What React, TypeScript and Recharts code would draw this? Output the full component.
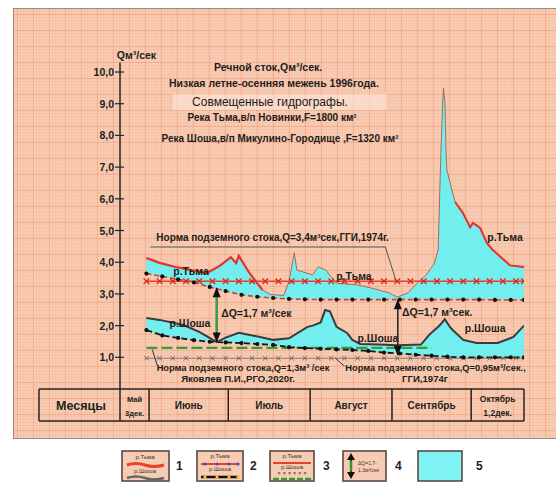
import React from 'react';
import { ComposedChart, Line, Area, XAxis, YAxis, ReferenceDot, ReferenceArea } from 'recharts';

// x = day index counted from 21 May (0); 1 Jun = 11, 1 Jul = 41, 1 Aug = 72, 1 Sep = 103, 1 Oct = 133, 21 Oct = 153
const tmaDays = [10, 15, 21, 27, 33, 38, 42, 44, 45, 49, 54, 57, 62, 64, 66, 67, 69, 73, 75, 78, 80, 82, 90, 95, 102, 105, 109, 113, 116, 119, 120.5, 121.5, 122.2, 122.5, 123.1, 123.5, 123.8, 126.9, 129.9, 132.6, 133.7, 136.4, 139, 141, 147.7, 153];
const tmaQ = [4.13, 3.98, 3.85, 3.75, 3.66, 3.9, 4.16, 3.97, 4.2, 3.66, 3.12, 2.98, 2.95, 3.4, 4.3, 3.75, 3.7, 3.6, 3.85, 3.75, 3.53, 3.34, 3.28, 3.19, 3.03, 2.9, 3.03, 3.38, 3.6, 3.95, 4.4, 7.4, 9.0, 9.5, 9.0, 7.4, 6.9, 5.9, 5.55, 5.1, 5.24, 5.08, 4.6, 4.4, 3.9, 3.85];
const tmaBase = [3.64, 3.56, 3.45, 3.36, 3.24, 3.12, 3.05, 3.01, 2.99, 2.92, 2.89, 2.87, 2.85, 2.84, 2.83, 2.83, 2.83, 2.82, 2.82, 2.82, 2.82, 2.82, 2.82, 2.82, 2.82, 2.82, 2.82, 2.82, 2.82, 2.82, 2.82, 2.82, 2.82, 2.82, 2.82, 2.82, 2.82, 2.82, 2.82, 2.82, 2.82, 2.82, 2.82, 2.82, 2.81, 2.81];

const shoshaDays = [10, 15, 24, 30, 36.7, 40, 45, 53, 58, 64, 71, 73, 76, 77.7, 79.5, 82, 86, 88, 91, 98, 105, 114, 117, 121, 123, 125, 126, 130, 135, 143, 149, 153];
const shoshaQ = [2.24, 2.18, 2.02, 1.8, 1.48, 1.62, 1.77, 1.64, 1.55, 1.6, 1.96, 2.0, 2.1, 2.49, 2.45, 1.96, 1.77, 1.55, 1.42, 1.4, 1.38, 1.4, 1.7, 2.0, 2.2, 1.95, 1.86, 1.55, 1.45, 1.45, 1.64, 2.0];
const shoshaBase = [1.86, 1.7, 1.6, 1.53, 1.48, 1.47, 1.45, 1.41, 1.39, 1.32, 1.29, 1.28, 1.27, 1.26, 1.25, 1.25, 1.24, 1.23, 1.21, 1.16, 1.13, 1.07, 1.06, 1.04, 1.03, 1.02, 1.0, 1.0, 1.0, 1.0, 1.0, 1.0];

const dotDays = [10, 16, 22, 28, 34, 40, 46, 52, 58, 64, 70, 76, 82, 88, 94, 100, 106, 112, 118, 124, 130, 136, 142, 148, 153];
const tmaBaseDots = [3.64, 3.55, 3.46, 3.36, 3.22, 3.09, 2.97, 2.91, 2.87, 2.84, 2.83, 2.82, 2.82, 2.82, 2.82, 2.82, 2.82, 2.82, 2.82, 2.82, 2.82, 2.82, 2.81, 2.81, 2.81];
const shoshaBaseDots = [1.86, 1.69, 1.61, 1.54, 1.49, 1.47, 1.45, 1.42, 1.39, 1.32, 1.29, 1.27, 1.25, 1.23, 1.2, 1.15, 1.12, 1.08, 1.05, 1.02, 1.0, 1.0, 1.0, 1.0, 1.0];

const normDays = [10, 15, 20, 25, 30, 35, 40, 45, 50, 55, 60, 65, 70, 75, 80, 85, 90, 95, 100, 105, 110, 115, 120, 125, 130, 135, 140, 145, 150, 153];
const tmaNormQ = 3.4;
const shoshaNormQ = 0.97;
const yakovlevDays = [10, 118];
const yakovlevQ = 1.3;

const dq1 = [{ d: 36.6, q: 3.18 }, { d: 36.6, q: 1.5 }];
const dq1Green = [{ d: 36.6, q: 3.02 }, { d: 36.6, q: 1.8 }];
const dq2 = [{ d: 105.2, q: 2.8 }, { d: 105.2, q: 1.08 }];
const leaderTop = [{ d: 11.5, q: 4.48 }, { d: 100.5, q: 4.48 }, { d: 104.5, q: 3.42 }];
const leaderB1 = [{ d: 12.2, q: 1.25 }, { d: 14.2, q: 0.72 }];
const leaderB2 = [{ d: 81.5, q: 0.98 }, { d: 85, q: 0.72 }];

const monthBounds = [0, 11, 41, 72, 103, 133, 153];
const monthMids = [5.5, 26, 56.5, 87.5, 118, 143];
const monthLabels = [['Май', '3дек.'], ['Июнь'], ['Июль'], ['Август'], ['Сентябрь'], ['Октябрь', '1,2дек.']];
const yTicks = [1, 2, 3, 4, 5, 6, 7, 8, 9, 10];
const yTickLabels = ['1,0', '2,0', '3,0', '4,0', '5,0', '6,0', '7,0', '8,0', '9,0', '10,0'];

// ---- derived tables ----
const tmaRows = tmaDays.map((d, i) => ({ d, q: tmaQ[i], b: tmaBase[i] }));
const shoshaRows = shoshaDays.map((d, i) => ({ d, q: shoshaQ[i], b: shoshaBase[i] }));
const tmaBaseRows = dotDays.map((d, i) => ({ d, q: tmaBaseDots[i] }));
const shoshaBaseRows = dotDays.map((d, i) => ({ d, q: shoshaBaseDots[i] }));
const tmaNormRows = normDays.map((d) => ({ d, q: tmaNormQ }));
const shoshaNormRows = normDays.map((d) => ({ d, q: shoshaNormQ }));
const yakRows = yakovlevDays.map((d) => ({ d, q: yakovlevQ }));
const tmaRedA = tmaRows.filter((r) => r.d <= 54);
const tmaRedB = tmaRows.filter((r) => r.d >= 126.9);

const FONT = "'Liberation Sans', Arial, sans-serif";
const INK = '#2b2220';
const CYAN = '#72eeee';
const PAPER = '#f7ccb3';

type Note = { d: number; q: number; t: string; s: number; a?: 'start' | 'middle' | 'end'; w?: number };
const notes: Note[] = [
  { d: -1.2, q: 10.55, t: 'Qм³/сек', s: 10.5, a: 'start', w: 700 },
  { d: 56.1, q: 10.16, t: 'Речной сток,Qм³/сек.', s: 10.5, w: 700 },
  { d: 58.3, q: 9.65, t: 'Низкая летне-осенняя межень 1996года.', s: 10.5, w: 700 },
  { d: 56.8, q: 9.06, t: 'Совмещенные гидрографы.', s: 12, w: 400 },
  { d: 57.6, q: 8.55, t: 'Река Тьма,в/п  Новинки,F=1800 км²', s: 10, w: 700 },
  { d: 60.6, q: 7.89, t: 'Река Шоша,в/п  Микулино-Городище ,F=1320 км²', s: 10, w: 700 },
  { d: 57.8, q: 4.79, t: 'Норма  подземного стока,Q=3,4м³сек,ГГИ,1974г.', s: 10, w: 700 },
  { d: 26.9, q: 3.72, t: 'р.Тьма', s: 10.5, w: 700 },
  { d: 88.6, q: 3.56, t: 'р.Тьма', s: 10.5, w: 700 },
  { d: 145.8, q: 4.79, t: 'р.Тьма', s: 10.5, w: 700 },
  { d: 26.5, q: 2.08, t: 'р.Шоша', s: 10.5, w: 700 },
  { d: 97.7, q: 1.62, t: 'р.Шоша', s: 10.5, w: 700 },
  { d: 138.3, q: 1.92, t: 'р.Шоша', s: 10.5, w: 700 },
  { d: 38.3, q: 2.4, t: 'ΔQ=1,7 м³/сек', s: 10.5, a: 'start', w: 700 },
  { d: 106.8, q: 2.43, t: 'ΔQ=1,7 м³сек.', s: 10.5, a: 'start', w: 700 },
  { d: 46.6, q: 0.66, t: 'Норма подземного стока,Q=1,3м³ /сек', s: 9.3, w: 700 },
  { d: 44.7, q: 0.32, t: 'Яковлев П.И.,РГО,2020г.', s: 9.6, w: 700 },
  { d: 85.3, q: 0.66, t: 'Норма подземного стока,Q=0,95м³/сек.,', s: 9.3, a: 'start', w: 700 },
  { d: 115.5, q: 0.32, t: 'ГГИ,1974г', s: 9.6, w: 700 },
];

const crossDot = (color: string, s: number, sw: number) => (p: any) => {
  const { cx, cy, index } = p;
  if (cx == null || cy == null) return <g key={`c${index}`} />;
  return (
    <path key={`c${index}`} d={`M${cx - s},${cy - s}L${cx + s},${cy + s}M${cx + s},${cy - s}L${cx - s},${cy + s}`} stroke={color} strokeWidth={sw} fill="none" />
  );
};

const arrowDot = (p: any) => {
  const { cx, cy, index } = p;
  if (cx == null || cy == null) return <g key={`a${index}`} />;
  const up = index === 0;
  const h = 9;
  const w = 4;
  const d = up
    ? `M${cx},${cy - 1}L${cx - w},${cy + h}L${cx + w},${cy + h}Z`
    : `M${cx},${cy + 1}L${cx - w},${cy - h}L${cx + w},${cy - h}Z`;
  return <path key={`a${index}`} d={d} fill="#111" stroke="none" />;
};

const YTick = (p: any) => {
  const { x, y, payload } = p;
  const i = yTicks.indexOf(payload.value);
  return (
    <g>
      <line x1={x - 5} x2={x + 4} y1={y} y2={y} stroke={INK} strokeWidth={1.2} />
      <text x={x - 6} y={y} textAnchor="end" dominantBaseline="central" fontSize={10.5} fontWeight={700} fontFamily={FONT} fill="#222">
        {yTickLabels[i]}
      </text>
    </g>
  );
};

const XTick = (p: any) => {
  const { x, y, payload } = p;
  const v = payload.value;
  const H = 32;
  const bi = monthBounds.indexOf(v);
  if (bi >= 0) {
    return (
      <g>
        <line x1={x} x2={x} y1={y} y2={y + H} stroke={INK} strokeWidth={1.5} />
        {bi === 0 && (
          <g>
            <line x1={x - 81} x2={x} y1={y} y2={y} stroke={INK} strokeWidth={1.5} />
            <line x1={x - 81} x2={x} y1={y + H} y2={y + H} stroke={INK} strokeWidth={1.5} />
            <line x1={x - 81} x2={x - 81} y1={y} y2={y + H} stroke={INK} strokeWidth={1.5} />
            <text x={x - 39} y={y + H / 2 + 1} textAnchor="middle" dominantBaseline="central" fontSize={12.5} fontWeight={700} fontFamily={FONT} fill="#222">
              Месяцы
            </text>
          </g>
        )}
      </g>
    );
  }
  const mi = monthMids.indexOf(v);
  if (mi < 0) return <g />;
  const lines = monthLabels[mi];
  if (lines.length === 1) {
    return (
      <text x={x} y={y + H / 2} textAnchor="middle" dominantBaseline="central" fontSize={10} fontWeight={700} fontFamily={FONT} fill="#222">
        {lines[0]}
      </text>
    );
  }
  const fs = mi === 0 ? 7.5 : 8.5;
  return (
    <g>
      <text x={x} y={y + 10} textAnchor="middle" dominantBaseline="central" fontSize={fs} fontWeight={700} fontFamily={FONT} fill="#222">
        {lines[0]}
      </text>
      <text x={x} y={y + 24} textAnchor="middle" dominantBaseline="central" fontSize={fs} fontWeight={700} fontFamily={FONT} fill="#222">
        {lines[1]}
      </text>
    </g>
  );
};

const LegendBoxes = () => {
  const box = (x: number, w: number, fill: string) => (
    <rect x={x} y={11} width={w} height={30} fill={fill} stroke="#5a4a44" strokeWidth={1.6} />
  );
  const small = { fontSize: 6, fontFamily: FONT, fill: '#333', textAnchor: 'middle' as const };
  const num = { fontSize: 12, fontWeight: 700, fontFamily: FONT, fill: '#222' };
  return (
    <svg width={556} height={53} style={{ position: 'absolute', left: 0, top: 440 }}>
      {box(122, 47, PAPER)}
      <text x={145} y={19} {...small}>р.Тьма</text>
      <path d="M127,25 Q136,22 145,25 T164,25" stroke="#e8402a" strokeWidth={3} fill="none" />
      <text x={145} y={33} {...small}>р.Шоша</text>
      <path d="M127,38 Q136,35 145,38 T164,38" stroke="#666" strokeWidth={2.5} fill="none" />
      <text x={176} y={30} {...num}>1</text>

      {box(197, 46, PAPER)}
      <text x={220} y={18} {...small}>р.Тьма</text>
      <line x1={201} x2={239} y1={24} y2={24} stroke="#e8402a" strokeWidth={2} />
      {[205, 217, 229, 238].map((cx) => <circle key={cx} cx={cx} cy={24} r={1.6} fill="#3050e0" />)}
      <text x={220} y={31} {...small}>р.Шоша</text>
      <line x1={201} x2={239} y1={37} y2={37} stroke="#111" strokeWidth={2.5} />
      {[205, 217, 229, 238].map((cx) => <circle key={cx} cx={cx} cy={37} r={1.6} fill="#f0d020" />)}
      <text x={250} y={30} {...num}>2</text>

      {box(270, 44, PAPER)}
      <text x={292} y={18} {...small}>р.Тьма</text>
      <line x1={273} x2={311} y1={23} y2={23} stroke="#e8402a" strokeWidth={2} />
      <text x={292} y={29} {...small}>р.Шоша</text>
      <text x={292} y={35} {...small}>× × × × × ×</text>
      <line x1={273} x2={311} y1={39} y2={39} stroke="#3a9a3a" strokeWidth={2.5} strokeDasharray="6 2" />
      <text x={323} y={30} {...num}>3</text>

      {box(343, 43, PAPER)}
      <line x1={351} x2={351} y1={15} y2={37} stroke="#111" strokeWidth={1.5} />
      <line x1={351} x2={351} y1={21} y2={31} stroke="#2a9a2a" strokeWidth={2.5} />
      <path d="M351,13 L347,20 L355,20 Z" fill="#111" />
      <path d="M351,39 L347,32 L355,32 Z" fill="#111" />
      <text x={358} y={25} fontSize={5} fontFamily={FONT} fill="#333">ΔQ=1,7-</text>
      <text x={358} y={32} fontSize={5} fontFamily={FONT} fill="#333">1,3м³/сек</text>
      <text x={395} y={30} {...num}>4</text>

      {box(418, 44, '#80f4f4')}
      <text x={476} y={30} {...num}>5</text>
    </svg>
  );
};

export default function App() {
  const paperStyle: React.CSSProperties = {
    position: 'absolute',
    left: 13,
    top: 8,
    width: 543,
    height: 429,
    backgroundColor: PAPER,
    backgroundImage: [
      'linear-gradient(rgba(236,128,88,0.34) 1px, transparent 1px)',
      'linear-gradient(90deg, rgba(236,128,88,0.34) 1px, transparent 1px)',
      'linear-gradient(rgba(244,160,125,0.2) 1px, transparent 1px)',
      'linear-gradient(90deg, rgba(244,160,125,0.2) 1px, transparent 1px)',
    ].join(','),
    backgroundSize: '16px 16px, 16px 16px, 3.2px 3.2px, 3.2px 3.2px',
    backgroundPosition: '3px 5px, 3px 5px, 3px 5px, 3px 5px',
    borderLeft: '1px solid #9a8a84',
    borderTop: '1px solid #9a8a84',
    borderBottom: '1px solid #9a8a84',
  };
  return (
    <div style={{ position: 'absolute', left: 0, top: 0, width: 556, height: 493, background: '#fff', overflow: 'hidden' }}>
      <div style={paperStyle} />
      <div style={{ position: 'absolute', left: 0, top: 0 }}>
        <ComposedChart width={556} height={493} margin={{ top: 62.5, right: 32, bottom: 71, left: 0 }}>
          <XAxis
            dataKey="d"
            type="number"
            domain={[0, 153]}
            ticks={[0, 5.5, 11, 26, 41, 56.5, 72, 87.5, 103, 118, 133, 143, 153]}
            interval={0}
            tick={<XTick />}
            tickLine={false}
            tickSize={0}
            tickMargin={0}
            height={32}
            axisLine={{ stroke: INK, strokeWidth: 1.5 }}
            allowDataOverflow
          />
          <XAxis
            xAxisId="edge"
            dataKey="d"
            type="number"
            domain={[0, 153]}
            ticks={[]}
            tick={false}
            tickLine={false}
            height={1}
            axisLine={{ stroke: INK, strokeWidth: 1.5 }}
          />
          <YAxis
            type="number"
            domain={[0, 10.3]}
            ticks={yTicks}
            interval={0}
            width={120}
            tick={<YTick />}
            tickLine={false}
            tickSize={0}
            tickMargin={0}
            axisLine={{ stroke: INK, strokeWidth: 1.5 }}
            allowDataOverflow
          />

          <ReferenceArea x1={20} x2={101} y1={8.8} y2={9.31} fill="#fbe6da" fillOpacity={0.6} stroke="none" />

          <Area data={tmaRows} dataKey={(r: any) => [r.b, r.q]} type="linear" stroke="none" fill={CYAN} fillOpacity={1} isAnimationActive={false} />
          <Area data={shoshaRows} dataKey={(r: any) => [r.b, r.q]} type="linear" stroke="none" fill={CYAN} fillOpacity={1} isAnimationActive={false} />

          <Line data={yakRows} dataKey="q" stroke="#3a9a3a" strokeWidth={2.2} strokeDasharray="11 4" dot={false} isAnimationActive={false} />
          <Line data={shoshaNormRows} dataKey="q" stroke="#8a7a78" strokeWidth={1} dot={crossDot('#6a5a58', 2.2, 0.9)} isAnimationActive={false} />
          <Line data={tmaNormRows} dataKey="q" stroke="#e8402a" strokeWidth={1.6} dot={crossDot('#e02a20', 2.8, 1.4)} isAnimationActive={false} />

          <Line data={tmaBaseRows} dataKey="q" stroke="#e03a2a" strokeWidth={1.6} strokeDasharray="5 3" dot={{ r: 2.1, fill: '#111', stroke: 'none' }} isAnimationActive={false} />
          <Line data={shoshaBaseRows} dataKey="q" stroke="#1a1a1a" strokeWidth={1.8} strokeDasharray="6 3" dot={{ r: 2.1, fill: '#111', stroke: 'none' }} isAnimationActive={false} />

          <Line data={tmaRows} dataKey="q" stroke="#a86a5a" strokeWidth={1} dot={false} isAnimationActive={false} />
          <Line data={tmaRedA} dataKey="q" stroke="#e8302a" strokeWidth={2.2} dot={false} isAnimationActive={false} />
          <Line data={tmaRedB} dataKey="q" stroke="#e8302a" strokeWidth={2} dot={false} isAnimationActive={false} />
          <Line data={shoshaRows} dataKey="q" stroke="#3a3a3a" strokeWidth={2} dot={false} isAnimationActive={false} />

          <Line data={leaderTop} dataKey="q" stroke="#555" strokeWidth={1} dot={false} isAnimationActive={false} />
          <Line data={leaderB1} dataKey="q" stroke="#333" strokeWidth={1} dot={false} isAnimationActive={false} />
          <Line data={leaderB2} dataKey="q" stroke="#333" strokeWidth={1} dot={false} isAnimationActive={false} />

          <Line data={dq1} dataKey="q" stroke="#2a2a2a" strokeWidth={1.6} dot={arrowDot} isAnimationActive={false} />
          <Line data={dq1Green} dataKey="q" stroke="#3aa03a" strokeWidth={2.2} dot={false} isAnimationActive={false} />
          <Line data={dq2} dataKey="q" stroke="#2a2a2a" strokeWidth={1.6} dot={arrowDot} isAnimationActive={false} />

          {notes.map((n, i) => (
            <ReferenceDot
              key={i}
              x={n.d}
              y={n.q}
              r={0}
              ifOverflow="visible"
              shape={(p: any) => (
                <text x={p.cx} y={p.cy} textAnchor={n.a || 'middle'} dominantBaseline="central" fontSize={n.s} fontWeight={n.w || 700} fontFamily={FONT} fill="#221c1a">
                  {n.t}
                </text>
              )}
            />
          ))}
        </ComposedChart>
      </div>
      <LegendBoxes />
    </div>
  );
}
